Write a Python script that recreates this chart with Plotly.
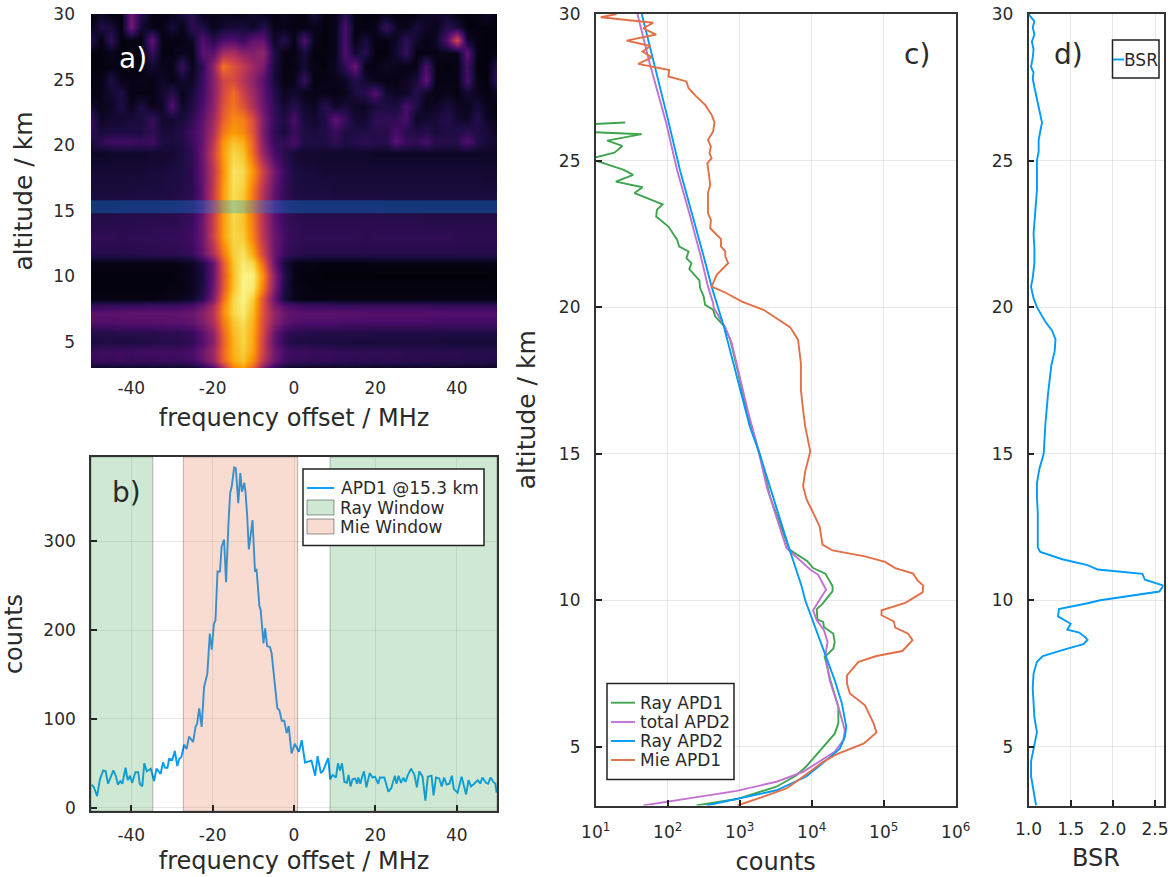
import plotly.graph_objects as go

W, H = 1168, 877

# -----------------------------
# PANEL A: spectrogram, percent of peak, rows go up in altitude
# -----------------------------
map_freq = [-50, -47.5, -45, -42.5, -40, -37.5, -35, -32.5, -30, -27.5, -25, -22.5, -20, -17.5, -15, -12.5,
            -10, -7.5, -5, -2.5, 0, 2.5, 5, 7.5, 10, 12.5, 15, 17.5, 20, 22.5, 25, 27.5, 30, 32.5, 35, 37.5,
            40, 42.5, 45, 47.5, 50]
map_alt = [3, 3.5, 4.2, 5, 5.7, 6.5, 7.2, 7.8, 8.3, 9, 10, 11, 11.7, 13, 14, 15.3, 16.5, 18, 19.4, 20.2,
           21, 22, 23, 24, 25, 26, 27, 28, 29, 30]
map_z = [
    [6,5,7,5,7,5,7,5,7,6,8,12,22,46,72,78,64,36,16,9,6,6,5,6,5,6,5,6,5,6,5,6,5,6,5,6,5,5,6,5,5],
    [16,18,17,19,17,18,17,19,18,18,20,27,40,64,80,86,74,50,30,20,17,17,16,17,16,16,15,16,15,16,15,14,15,14,14,14,14,13,14,13,13],
    [18,19,19,20,19,20,20,20,20,21,23,30,42,66,82,88,78,54,32,22,19,19,18,18,17,17,17,16,16,16,16,15,15,15,15,15,15,14,14,14,14],
    [11,12,12,12,12,12,13,13,13,14,16,24,36,64,82,90,80,54,28,16,12,12,11,11,11,11,10,10,10,10,10,10,10,10,10,9,9,9,9,9,9],
    [13,13,13,14,14,14,14,15,15,16,18,26,38,66,84,90,80,56,30,18,14,14,13,13,13,13,13,13,12,12,12,12,12,12,12,12,12,12,12,12,12],
    [24,24,24,25,25,25,25,25,26,26,28,34,46,70,86,92,82,58,38,28,24,23,23,23,23,22,22,22,22,22,22,22,22,22,21,21,21,21,21,21,21],
    [26,26,26,26,27,27,27,27,27,28,30,36,48,74,90,95,84,60,40,30,27,26,26,26,26,26,26,25,25,25,25,25,25,25,25,24,24,24,24,24,24],
    [16,16,17,17,17,17,18,18,18,19,21,28,44,72,90,96,86,60,34,24,20,18,18,18,17,17,17,17,17,17,17,17,17,17,16,16,16,16,16,16,16],
    [3,3,3,3,3,3,3,4,4,5,7,14,34,68,90,97,88,60,30,10,4,3,3,3,3,3,3,3,3,3,3,3,3,3,3,3,3,3,3,3,3],
    [2,2,2,2,2,2,2,2,3,3,5,11,30,62,86,97,94,70,36,12,4,3,2,2,2,2,2,2,2,2,2,2,2,2,2,2,2,2,2,2,2],
    [2,2,2,2,2,2,2,2,2,3,5,10,28,60,85,97,96,75,38,14,3,2,2,1,1,1,1,1,1,1,1,1,1,1,1,1,1,1,1,1,2],
    [3,3,3,3,3,3,3,3,3,4,6,12,28,62,86,95,90,66,30,10,4,3,3,2,2,2,2,2,3,3,3,3,3,3,3,3,3,3,3,3,3],
    [14,14,14,14,14,14,15,15,15,16,18,28,46,70,88,93,80,56,30,19,15,14,14,14,14,14,14,14,14,14,14,14,14,14,14,14,14,14,14,14,14],
    [16,16,16,15,16,16,16,17,17,18,20,30,54,78,90,88,72,50,30,21,17,16,16,16,16,16,16,15,16,16,16,16,16,16,16,16,15,15,15,15,15],
    [14,14,14,14,14,15,15,15,15,16,19,30,54,78,90,86,70,48,28,19,16,15,15,15,15,15,15,15,15,15,15,15,15,14,14,14,14,14,14,14,14],
    [12,12,12,13,13,13,13,13,14,15,17,28,52,78,92,86,68,46,27,18,14,13,13,13,13,13,13,13,13,12,12,12,12,12,12,12,12,12,12,12,12],
    [10,10,10,10,10,11,11,11,12,13,15,27,52,78,92,88,70,48,28,17,12,11,11,11,10,10,10,10,10,10,10,10,10,10,10,10,10,10,10,10,10],
    [9,9,9,9,9,9,10,10,11,12,16,28,50,76,93,91,76,55,32,19,11,10,10,9,9,9,9,9,9,9,9,9,9,9,9,9,9,9,9,8,8],
    [6,6,7,7,7,7,8,8,9,11,16,30,54,78,90,86,66,40,22,14,9,8,8,7,7,7,7,7,6,6,6,6,6,6,6,6,6,6,6,6,6],
    [10,16,20,20,20,18,20,12,10,12,18,28,50,76,86,82,64,36,18,16,22,12,12,12,16,12,14,16,14,14,26,18,16,22,14,14,14,24,14,10,8],
    [16,10,12,12,12,12,16,10,10,14,20,28,46,70,78,74,60,34,16,10,18,12,10,12,18,12,12,12,14,14,22,14,12,14,10,12,12,16,12,10,6],
    [18,6,8,8,10,10,18,8,8,10,16,26,42,64,74,72,58,34,18,12,22,10,8,12,28,18,8,8,16,16,16,22,6,8,10,14,8,6,14,6,3],
    [8,4,6,12,4,12,4,6,24,6,12,22,38,60,70,60,46,30,16,8,14,8,5,15,6,10,6,6,10,12,10,22,12,4,6,10,6,4,10,4,3],
    [3,4,8,12,3,3,3,8,14,4,10,20,36,56,68,54,42,28,14,5,8,4,3,4,3,4,10,14,24,8,6,6,14,6,3,4,3,8,5,2,6],
    [3,3,12,4,3,4,3,6,3,8,6,18,36,56,58,48,38,26,10,3,4,18,3,3,4,6,14,8,4,3,3,6,10,28,3,3,3,22,3,2,18],
    [2,2,3,2,2,2,8,4,4,18,4,16,38,70,60,52,42,34,10,3,3,8,3,2,6,16,30,3,3,6,4,3,3,22,3,2,3,20,2,2,14],
    [2,2,4,2,2,3,18,3,2,6,3,26,26,44,46,38,36,40,12,3,3,10,2,2,4,24,8,14,2,2,8,18,3,3,3,4,3,28,3,2,3],
    [14,2,18,2,3,2,28,3,3,3,6,24,14,22,24,18,28,28,6,14,3,24,4,2,4,22,3,10,3,3,6,16,8,3,6,25,58,8,3,2,2],
    [3,12,10,2,32,8,3,3,10,3,16,12,4,8,10,10,6,14,4,4,3,3,4,2,4,22,3,2,4,18,6,4,10,6,4,14,10,2,2,2,2],
    [2,6,2,2,30,14,2,3,4,10,14,4,4,4,3,4,8,4,2,5,3,2,10,2,3,14,3,2,2,4,2,2,3,6,6,8,3,2,3,6,2],
]
band_alt = [14.8, 15.8]

# -----------------------------
# PANEL B: spectrum at 15.3 km
# -----------------------------
spec_freq = [-49.75, -49.2, -48.4, -47.7, -46.9, -46.3, -45.7, -45.1, -44.4, -43.8, -43.3, -42.7, -42.2, -41.4,
             -40.9, -40.3, -39.8, -39.0, -38.3, -37.9, -37.3, -36.8, -36.2, -35.2, -34.4, -33.8, -32.8, -32.2,
             -31.7, -31.1, -30.7, -29.9, -29.3, -28.7, -28.2, -27.7, -27.0, -26.4, -25.8, -24.8, -24.2, -23.8,
             -23.3, -22.7, -22.1, -21.3, -20.7, -20.2, -19.7, -19.3, -18.8, -18.2, -17.8, -17.2, -16.7, -16.1,
             -15.7, -15.3, -14.7, -14.3, -13.7, -13.2, -12.8, -12.2, -11.9, -11.5, -11.1, -10.2, -9.6, -9.2,
             -8.5, -8.2, -7.5, -7.1, -6.6, -5.9, -5.5, -4.1, -3.6, -3.0, -2.4, -1.8, -1.3, -0.6, 0.2, 1.2, 1.9,
             2.7, 4.3, 5.2, 5.8, 6.6, 7.2, 8.4, 8.9, 9.5, 10.3, 10.8, 11.3, 11.8, 12.4, 13.0, 13.4, 13.9, 14.4,
             15.0, 15.5, 15.8, 16.3, 16.7, 17.2, 17.8, 18.6, 19.3, 19.9, 20.7, 21.1, 22.2, 23.2, 23.9, 24.8,
             25.2, 25.7, 26.3, 26.9, 27.4, 28.0, 28.8, 29.6, 30.2, 30.8, 31.6, 32.3, 32.9, 33.8, 34.3, 34.9,
             35.7, 36.3, 36.9, 37.5, 38.2, 38.8, 39.3, 40.2, 41.2, 42.3, 42.9, 43.5, 44.3, 45.2, 45.8, 46.3,
             47.2, 47.7, 48.3, 49.0, 49.5, 49.8]
spec_counts = [26, 23, 13, 32, 42, 41, 27, 34, 42, 36, 26, 30, 27, 45,
               31, 36, 28, 40, 40, 27, 24, 50, 41, 44, 30, 44, 38, 51,
               45, 45, 55, 54, 64, 47, 55, 57, 71, 66, 80, 74, 91, 95,
               112, 91, 136, 151, 196, 178, 207, 211, 266, 266, 294, 302, 254, 321,
               354, 362, 384, 382, 343, 377, 356, 366, 354, 328, 291, 324, 267, 268,
               227, 223, 185, 202, 182, 181, 174, 112, 110, 98, 98, 84, 92, 61, 72, 63, 76,
               51, 53, 36, 58, 39, 42, 56, 32, 37, 34, 50, 42, 50, 29, 28, 37, 24, 32,
               33, 27, 34, 27, 34, 41, 23, 39, 34, 35, 27, 34, 34, 18, 22, 36,
               27, 36, 28, 34, 29, 37, 44, 37, 23, 41, 35, 8, 35, 36, 14, 34,
               33, 24, 34, 26, 27, 36, 21, 17, 35, 15, 31, 24, 27, 31, 27, 34,
               28, 27, 34, 29, 27, 17]
ray_edges = [-34.7, 8.85]
mie_edges = [-27.2, 0.9]
freq_lim = [-49.9, 49.9]
counts_lim = [-3.7, 395]

# -----------------------------
# PANEL C: profiles, log10(counts) against altitude
# -----------------------------
ray1_alt = [26.3, 26.24, 25.97, 25.9, 25.68, 25.5, 25.27, 25.11, 25.05, 25.0, 24.68, 24.51, 24.28, 24.09, 23.89, 23.51,
            23.32, 23.09, 22.75, 22.3, 22.07, 21.9, 21.67, 21.5, 21.3, 20.91, 20.65, 20.36, 20.08, 19.91, 19.68,
            19.34, 18.89, 17.75, 16.39, 15.88, 14.97, 13.55, 11.73, 11.33, 11.1, 10.91, 10.48, 10.31, 9.85, 9.7,
            9.34, 9.26, 9.09, 8.86, 8.58, 8.35, 8.07, 7.27, 6.36, 5.8, 5.45, 5.0, 4.32, 4.03, 3.64, 3.22, 3.0]
ray1_log = [1.41, 0.95, 0.95, 1.64, 1.16, 1.37, 1.26, 1.0, 0.95, 1.0, 1.39, 1.52, 1.28, 1.65, 1.54, 1.93,
            1.85, 1.84, 2.01, 2.13, 2.16, 2.29, 2.26, 2.33, 2.30, 2.44, 2.45, 2.50, 2.52, 2.63, 2.66,
            2.79, 2.87, 2.98, 3.10, 3.17, 3.28, 3.42, 3.69, 3.94, 4.02, 4.19, 4.29, 4.29, 4.14, 4.07,
            4.08, 4.16, 4.17, 4.30, 4.32, 4.30, 4.18, 4.26, 4.37, 4.37, 4.32, 4.16, 3.92, 3.79, 3.51, 2.96, 2.40]
total2_alt = [30, 28.32, 26.27, 24.68, 23.2, 21.73, 20.7, 20.14, 19.97, 19.34, 18.77, 17.86, 16.39, 15.31, 13.83,
              11.78, 11.22, 11.05, 10.87, 10.36, 10.14, 9.66, 9.32, 8.98, 8.58, 8.13, 7.27, 6.36, 5.57, 5.23,
              4.83, 4.15, 3.81, 3.5, 3.27, 3.0]
total2_log = [1.58, 1.75, 1.98, 2.13, 2.30, 2.46, 2.56, 2.63, 2.64, 2.79, 2.89, 2.98, 3.12, 3.24, 3.38,
              3.65, 3.90, 3.98, 4.09, 4.20, 4.14, 4.02, 4.07, 4.17, 4.22, 4.19, 4.25, 4.37, 4.46, 4.44,
              4.32, 3.88, 3.51, 2.96, 2.36, 1.66]
ray2_alt = [30, 28.43, 26.44, 24.68, 23.2, 21.73, 20.7, 19.57, 19.34, 15.93, 14.97, 11.67, 10.48, 10.0, 8.30, 7.27,
            6.47, 5.68, 5.34, 4.94, 4.6, 3.98, 3.52, 3.22, 3.0]
ray2_log = [1.64, 1.80, 2.0, 2.17, 2.34, 2.50, 2.61, 2.75, 2.78, 3.14, 3.28, 3.70, 3.86, 3.91, 4.16, 4.32,
            4.42, 4.48, 4.46, 4.39, 4.23, 3.92, 3.51, 2.96, 2.54]
mie1_alt = [30, 29.89, 29.70, 29.51, 29.30, 29.09, 28.91, 28.72, 28.52, 28.30, 28.09, 27.87, 27.70, 27.47, 27.18,
            26.90, 26.56, 26.30, 25.99, 25.70, 25.48, 25.25, 25.08, 24.91, 24.57, 24.17, 23.91, 23.2, 22.98,
            22.69, 22.32, 22.07, 21.9, 21.73, 21.5, 21.1, 20.7, 20.5, 20.19, 19.91, 19.32, 18.89, 18.09, 17.18,
            16.5, 15.93, 15.08, 14.4, 13.89, 13.43, 13.09, 12.52, 11.9, 11.7, 11.5, 11.31, 11.1, 10.91, 10.68,
            10.5, 10.27, 9.91, 9.66, 9.49, 9.28, 9.07, 8.86, 8.64, 8.27, 8.10, 7.90, 7.44, 7.16, 6.82, 6.42,
            5.80, 5.49, 5.11, 4.75, 4.49, 3.98, 3.58, 3.30, 3.0]
mie1_log = [1.29, 1.07, 1.80, 1.66, 1.84, 1.43, 1.76, 1.65, 1.78, 1.59, 2.02, 2.01, 2.26, 2.29, 2.40,
            2.52, 2.61, 2.65, 2.63, 2.56, 2.60, 2.58, 2.61, 2.55, 2.57, 2.59, 2.56, 2.56, 2.60,
            2.59, 2.74, 2.74, 2.80, 2.80, 2.84, 2.68, 2.61, 2.80, 3.03, 3.33, 3.70, 3.81, 3.85, 3.85,
            3.88, 3.91, 3.98, 3.91, 3.88, 3.93, 4.0, 4.11, 4.15, 4.29, 4.74, 5.02, 5.16, 5.41, 5.47,
            5.55, 5.54, 5.30, 4.97, 4.97, 5.14, 5.16, 5.34, 5.40, 5.26, 4.90, 4.65, 4.49, 4.49, 4.53, 4.74,
            4.86, 4.90, 4.72, 4.35, 4.16, 3.88, 3.65, 3.33, 2.97]
count_ticks = [10, 100, 1000, 10000, 100000, 1000000]
count_labels = ["10<sup>1</sup>", "10<sup>2</sup>", "10<sup>3</sup>", "10<sup>4</sup>", "10<sup>5</sup>", "10<sup>6</sup>"]

# -----------------------------
# PANEL D: backscatter ratio
# -----------------------------
bsr_alt = [30, 29.75, 29.55, 29.3, 29.05, 28.8, 28.5, 28.2, 28.0, 27.8, 27.5, 27.0, 26.5, 26.3, 26.0, 25.7, 25.3, 25,
           24, 23, 22.5, 22, 21.5, 21, 20.7, 20.3, 20, 19.5, 19.2, 18.9, 18.5, 18, 17, 16, 15, 14.5, 14, 13.5, 13,
           12, 11.8, 11.65, 11.4, 11.2, 11.05, 10.9, 10.7, 10.5, 10.3, 10.0, 9.9, 9.7, 9.45, 9.2, 9.0, 8.9, 8.75,
           8.65, 8.5, 8.3, 8.1, 7.9, 7.5, 7, 6, 5.5, 5.2, 4.5, 4, 3]
bsr = [1.00, 1.07, 1.05, 1.07, 1.04, 1.06, 1.05, 1.03, 1.06, 1.05, 1.07, 1.11, 1.15, 1.16, 1.14, 1.12, 1.12, 1.10,
       1.10, 1.07, 1.06, 1.07, 1.07, 1.05, 1.03, 1.06, 1.10, 1.20, 1.28, 1.32, 1.31, 1.27, 1.23, 1.20, 1.18, 1.13,
       1.10, 1.10, 1.11, 1.11, 1.11, 1.14, 1.40, 1.70, 1.82, 2.35, 2.38, 2.6, 2.55, 1.85, 1.7, 1.36, 1.35, 1.5,
       1.46, 1.6, 1.67, 1.70, 1.65, 1.4, 1.17, 1.10, 1.06, 1.05, 1.07, 1.10, 1.08, 1.03, 1.03, 1.09]

BLUE, ORANGE, GREEN, PURPLE = "#009AF9", "#E36F47", "#3EA44E", "#C271D2"
RAY_FILL, MIE_FILL = "rgba(62,164,78,0.25)", "rgba(227,111,71,0.25)"
EDGE = "rgba(0,0,0,0.25)"
INK = "#2a2a2a"
FRAME = "#333333"
LINE_W = 1.9


def hdom(x0, x1):
    return [x0 / W, x1 / W]


def vdom(y0, y1):
    return [1 - y1 / H, 1 - y0 / H]


def window_xy(pairs, lim):
    xs, ys = [], []
    for a, b in pairs:
        xs += [a, a, b, b, a, None]
        ys += [lim[0], lim[1], lim[1], lim[0], lim[0], None]
    return xs, ys


fig = go.Figure()

fig.add_trace(go.Heatmap(x=map_freq, y=map_alt, z=map_z, colorscale="Inferno", zmin=0, zmax=100,
                         zsmooth="best", showscale=False, xaxis="x", yaxis="y", hoverinfo="skip"))

fig.add_trace(go.Scatter(x=spec_freq, y=spec_counts, mode="lines", name="APD1 @15.3 km",
                         line=dict(color=BLUE, width=LINE_W), xaxis="x2", yaxis="y2"))
rx, ry = window_xy([(freq_lim[0], ray_edges[0]), (ray_edges[1], freq_lim[1])], counts_lim)
fig.add_trace(go.Scatter(x=rx, y=ry, mode="lines", fill="toself", name="Ray Window", fillcolor=RAY_FILL,
                         line=dict(color=EDGE, width=1), xaxis="x2", yaxis="y2"))
mx, my = window_xy([(mie_edges[0], mie_edges[1])], counts_lim)
fig.add_trace(go.Scatter(x=mx, y=my, mode="lines", fill="toself", name="Mie Window", fillcolor=MIE_FILL,
                         line=dict(color=EDGE, width=1), xaxis="x2", yaxis="y2"))

profiles = [("Ray APD1", ray1_log, ray1_alt, GREEN), ("total APD2", total2_log, total2_alt, PURPLE),
            ("Ray APD2", ray2_log, ray2_alt, BLUE), ("Mie APD1", mie1_log, mie1_alt, ORANGE)]
for name, logs, alts, color in profiles:
    fig.add_trace(go.Scatter(x=[10 ** v for v in logs], y=alts, mode="lines", name=name,
                             line=dict(color=color, width=LINE_W), xaxis="x3", yaxis="y3"))

fig.add_trace(go.Scatter(x=bsr, y=bsr_alt, mode="lines", name="BSR",
                         line=dict(color=BLUE, width=LINE_W), xaxis="x4", yaxis="y4"))


def framed(standoff=10):
    return dict(ticks="inside", ticklen=6, tickwidth=1.5, tickcolor="#222222", showline=True, mirror=True,
                linecolor=FRAME, linewidth=1.6, showgrid=True, gridcolor="rgba(0,0,0,0.09)", gridwidth=1,
                zeroline=False, tickfont=dict(size=17, color=INK), ticklabelstandoff=standoff, automargin=False)


title_font = dict(size=24, color=INK)
alt_font = dict(size=25, color=INK)
alt_ticks = [5, 10, 15, 20, 25, 30]
freq_ticks = [-40, -20, 0, 20, 40]
freq_labels = ["-40", "-20", "0", "20", "40"]

fig.update_layout(
    width=W, height=H, margin=dict(l=0, r=0, t=0, b=0), paper_bgcolor="white", plot_bgcolor="white",
    font=dict(family="DejaVu Sans", color=INK), showlegend=False,
    xaxis=dict(domain=hdom(91, 497), range=freq_lim, tickvals=freq_ticks, ticktext=freq_labels, ticks="",
               showgrid=False, zeroline=False, tickfont=dict(size=17, color=INK), ticklabelstandoff=8,
               automargin=False, title=dict(text="frequency offset / MHz", font=title_font, standoff=12)),
    yaxis=dict(domain=vdom(14, 368), range=[3, 30], tickvals=alt_ticks, ticks="", showgrid=False, zeroline=False,
               tickfont=dict(size=17, color=INK), ticklabelstandoff=15, automargin=False,
               title=dict(text="altitude / km", font=alt_font, standoff=13)),
    xaxis2=dict(domain=hdom(91, 497), range=freq_lim, tickvals=freq_ticks, ticktext=freq_labels, anchor="y2",
                title=dict(text="frequency offset / MHz", font=title_font, standoff=8), **framed(8)),
    yaxis2=dict(domain=vdom(457, 811), range=counts_lim, tickvals=[0, 100, 200, 300], anchor="x2",
                title=dict(text="counts", font=title_font, standoff=16), **framed()),
    xaxis3=dict(domain=hdom(595.7, 955.7), type="log", range=[1, 6], tickvals=count_ticks, ticktext=count_labels,
                anchor="y3", title=dict(text="counts", font=title_font, standoff=12), **framed()),
    yaxis3=dict(domain=vdom(14, 805.5), range=[3, 30], tickvals=alt_ticks, anchor="x3",
                title=dict(text="altitude / km", font=alt_font, standoff=16), **framed()),
    xaxis4=dict(domain=hdom(1028.5, 1163.5), range=[1.0, 2.6], tickvals=[1.0, 1.5, 2.0, 2.5],
                ticktext=["1.0", "1.5", "2.0", "2.5"], anchor="y4", ticklabeloverflow="allow",
                title=dict(text="BSR", font=title_font, standoff=11), **framed(7)),
    yaxis4=dict(domain=vdom(14, 805.5), range=[3, 30], tickvals=alt_ticks, anchor="x4", **framed()),
)

# band marking the altitude of the spectrum in panel b
fig.add_shape(type="rect", xref="x", yref="y", x0=freq_lim[0], x1=freq_lim[1], y0=band_alt[0], y1=band_alt[1],
              fillcolor=BLUE, opacity=0.3, line=dict(width=0), layer="above")


def paper_shape(kind, x0, y0, x1, y1, **kw):
    fig.add_shape(type=kind, xref="paper", yref="paper", x0=x0 / W, x1=x1 / W, y0=1 - y0 / H, y1=1 - y1 / H,
                  layer="above", **kw)


def paper_text(text, px, py, size, color=INK, anchor="center"):
    fig.add_annotation(xref="paper", yref="paper", x=px / W, y=1 - py / H, text=text, showarrow=False,
                       xanchor=anchor, yanchor="middle", font=dict(size=size, color=color))


# legends, placed by hand so the rows sit as tight as the original
paper_shape("rect", 303, 469, 484, 545.5, fillcolor="white", line=dict(color="#222222", width=1.5))
paper_shape("line", 307, 488, 334, 488, line=dict(color=BLUE, width=LINE_W))
paper_text("APD1 @15.3 km", 339, 488, 17, anchor="left")
paper_shape("rect", 307, 500, 334, 515, fillcolor=RAY_FILL, line=dict(color="rgba(0,0,0,0.4)", width=1))
paper_text("Ray Window", 338, 507.5, 17, anchor="left")
paper_shape("rect", 307, 519, 334, 534, fillcolor=MIE_FILL, line=dict(color="rgba(0,0,0,0.4)", width=1))
paper_text("Mie Window", 338, 526.5, 17, anchor="left")

paper_shape("rect", 607, 683.5, 734, 779.5, fillcolor="white", line=dict(color="#222222", width=1.5))
for (name, _, _, color), py in zip(profiles, [702.7, 722, 741, 760]):
    paper_shape("line", 611, py, 635, py, line=dict(color=color, width=LINE_W))
    paper_text(name, 638, py, 17, anchor="left")

paper_shape("rect", 1112.5, 40, 1159, 78, fillcolor="white", line=dict(color="#222222", width=1.5))
paper_shape("line", 1113, 59.5, 1124, 59.5, line=dict(color=BLUE, width=LINE_W))
paper_text("BSR", 1141, 60, 17)

panel_labels = [("a)", 133, 58, "white"), ("b)", 126, 492, INK), ("c)", 917, 55, INK), ("d)", 1068, 55, INK)]
for text, px, py, color in panel_labels:
    paper_text(text, px, py, 28, color)

# the page would otherwise add its default 8 px body margin round the figure
fig.write_html("out.html", config={"displayModeBar": False}, post_script="document.body.style.margin = '0';")
